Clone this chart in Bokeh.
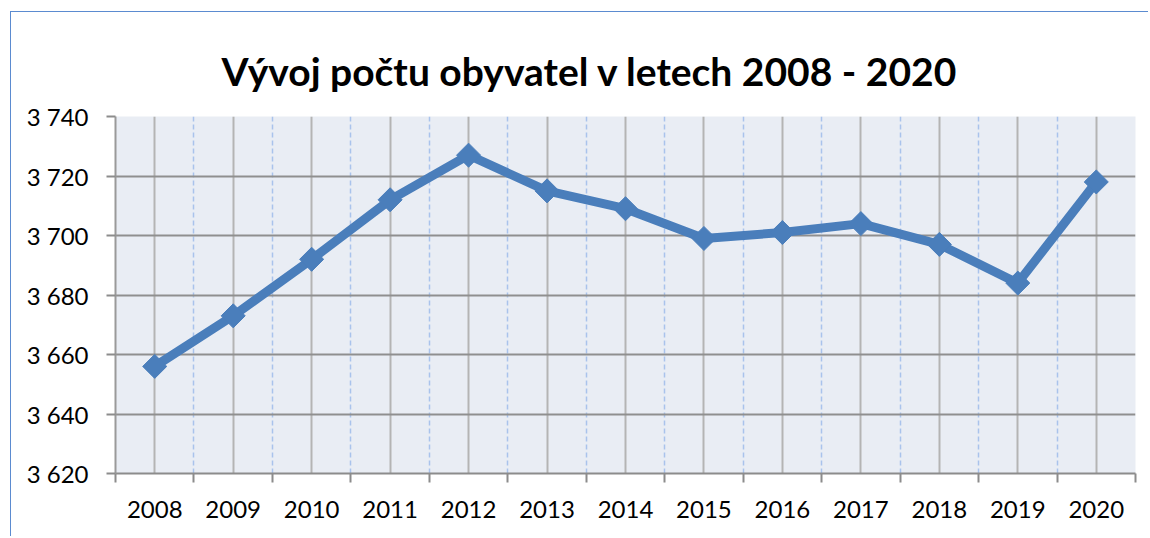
import math
from bokeh.plotting import figure
from bokeh.models import FixedTicker
from bokeh.embed import file_html
from bokeh.resources import INLINE

# ---- data ----
years = [2008, 2009, 2010, 2011, 2012, 2013, 2014, 2015, 2016, 2017, 2018, 2019, 2020]
population = [3656, 3673, 3692, 3712, 3727, 3715, 3709, 3699, 3701, 3704, 3697, 3684, 3718]
y_ticks = [3620, 3640, 3660, 3680, 3700, 3720, 3740]
y_tick_labels = ["3 620", "3 640", "3 660", "3 680", "3 700", "3 720", "3 740"]
x_tick_labels = [str(y) for y in years]
title_text = "Vývoj počtu obyvatel v letech 2008 - 2020"

FONT = "Lato"
# canvas origin on the page (after css margin + border)
OX, OY = 11.5, 12.5
W, H = 1138, 525
FRAME_L, FRAME_T, FRAME_R, FRAME_B = 116 - OX, 117 - OY, 1135 - OX, 474 - OY

p = figure(width=W, height=H, output_backend="svg", toolbar_location=None,
           x_range=(years[0] - 0.5, years[-1] + 0.5),
           y_range=(y_ticks[0], y_ticks[-1]),
           min_border_left=int(round(FRAME_L)), min_border_right=int(round(W - FRAME_R)),
           min_border_top=int(round(FRAME_T)), min_border_bottom=int(round(H - FRAME_B)))
p.margin = (11, 0, 0, 10)
p.styles = {"border-left": "1.5px solid #5B8BD0", "border-top": "1.5px solid #5B8BD0"}
p.outline_line_color = None
p.background_fill_color = "#E9EDF4"
p.border_fill_color = "white"

# title
p.title.text = title_text
p.title.align = "left"
p.title.offset = 222 - 116
p.title.text_font = FONT
p.title.text_font_style = "bold"
p.title.text_font_size = "39px"
p.title.text_color = "black"
p.title.vertical_align = "middle"
p.title.text_baseline = "alphabetic"
p.title.standoff = 44

# x axis: labels at category centres, ticks at category boundaries
boundaries = [y - 0.5 for y in years] + [years[-1] + 0.5]
p.xaxis.ticker = FixedTicker(ticks=years, minor_ticks=boundaries)
p.xaxis.major_label_overrides = {y: lab for y, lab in zip(years, x_tick_labels)}
p.xaxis.major_tick_out = 0
p.xaxis.major_tick_in = 0
p.xaxis.minor_tick_out = 9
p.xaxis.minor_tick_in = 0
p.xaxis.minor_tick_line_color = "#8C8C8C"
p.xaxis.minor_tick_line_width = 2
p.xaxis.axis_line_color = "#8C8C8C"
p.xaxis.axis_line_width = 2
p.xaxis.major_label_standoff = 18
p.xaxis.major_label_text_font = FONT
p.xaxis.major_label_text_font_size = "24px"
p.xaxis.major_label_text_color = "black"

# y axis
p.yaxis.ticker = FixedTicker(ticks=y_ticks)
p.yaxis.major_label_overrides = {t: lab for t, lab in zip(y_ticks, y_tick_labels)}
p.yaxis.major_tick_out = 9
p.yaxis.major_tick_in = 0
p.yaxis.major_tick_line_color = "#8C8C8C"
p.yaxis.major_tick_line_width = 2
p.yaxis.minor_tick_line_color = None
p.yaxis.axis_line_color = "#9A9A9A"
p.yaxis.axis_line_width = 2
p.yaxis.major_label_standoff = 18
p.yaxis.major_label_text_font = FONT
p.yaxis.major_label_text_font_size = "24px"
p.yaxis.major_label_text_color = "black"

# grids
p.xgrid.grid_line_color = "#B4B4B4"
p.xgrid.grid_line_width = 2
p.xgrid.minor_grid_line_color = "#A9C3EC"
p.xgrid.minor_grid_line_width = 1.5
p.xgrid.minor_grid_line_dash = "5 3"
p.ygrid.grid_line_color = "#8F8F8F"
p.ygrid.grid_line_width = 2

# series
color = "#4A7EBB"
p.line(years, population, line_width=9, line_color=color, line_join="round")
p.scatter(years, population, marker="square", angle=math.pi / 4, size=17,
          fill_color=color, line_color=color)

open("out.html", "w").write(file_html(p, INLINE))
